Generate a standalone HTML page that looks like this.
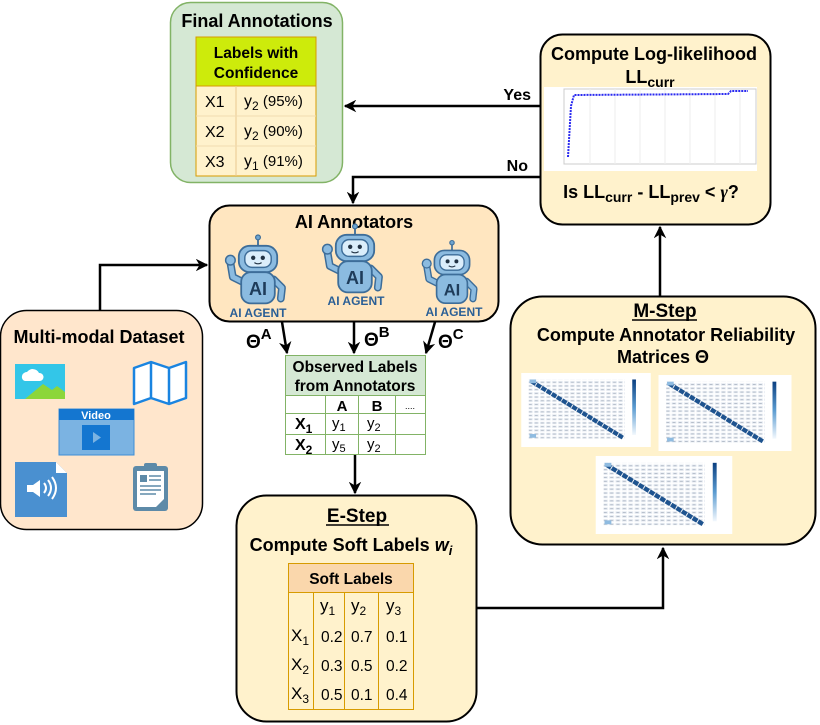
<!DOCTYPE html>
<html><head><meta charset="utf-8"><style>
html,body{margin:0;padding:0;background:#fff;}
svg{display:block;font-family:"Liberation Sans",Arial,sans-serif;}
.b{font-weight:bold;}
</style></head><body>
<svg width="820" height="725" viewBox="0 0 820 725" xmlns="http://www.w3.org/2000/svg">
<defs>
<marker id="ar" viewBox="0 0 10 10" refX="9" refY="5" markerWidth="5" markerHeight="5" orient="auto-start-reverse"><path d="M0,0 L10,5 L0,10 L3,5 z" fill="#000"/></marker>
<pattern id="grid" width="6.5" height="4" patternUnits="userSpaceOnUse"><rect width="6.5" height="4" fill="#fff"/><rect x="0.8" y="0.8" width="5" height="2.4" fill="#e2e8f0"/><rect x="1.8" y="1.6" width="3" height="0.8" fill="#aab3c0"/></pattern>
<linearGradient id="cb" x1="0" y1="0" x2="0" y2="1"><stop offset="0" stop-color="#0b3f80"/><stop offset="0.5" stop-color="#5a9bd0"/><stop offset="1" stop-color="#f2f8fd"/></linearGradient>
<symbol id="hm" viewBox="0 0 140 80">
<rect width="140" height="80" fill="#fff"/>
<rect x="8" y="7" width="104" height="64" fill="url(#grid)"/>
<line x1="11" y1="9" x2="110" y2="70" stroke="#1e538f" stroke-width="4.5" stroke-dasharray="5.5 1"/>
<rect x="9" y="66" width="7" height="4" fill="#8fbbe0"/><rect x="9" y="7" width="7" height="4" fill="#8fbbe0"/>
<rect x="120" y="7" width="4" height="60" fill="url(#cb)"/>
</symbol>
<g id="robot">
<line x1="0" y1="-32" x2="0" y2="-26" stroke="#3d6d99" stroke-width="1.5"/><circle cx="0" cy="-33" r="2" fill="#6fa5d0" stroke="#3d6d99"/>
<path d="M-13,4 L-21,0 L-23,-12" stroke="#3d6d99" stroke-width="6.5" fill="none" stroke-linecap="round" stroke-linejoin="round"/>
<path d="M-13,4 L-21,0 L-23,-12" stroke="#8bbbe0" stroke-width="4" fill="none" stroke-linecap="round" stroke-linejoin="round"/>
<circle cx="-23" cy="-14" r="4" fill="#8bbbe0" stroke="#3d6d99" stroke-width="1.2"/>
<path d="M13,2 L20,9 L19,18" stroke="#3d6d99" stroke-width="6.5" fill="none" stroke-linecap="round" stroke-linejoin="round"/>
<path d="M13,2 L20,9 L19,18" stroke="#8bbbe0" stroke-width="4" fill="none" stroke-linecap="round" stroke-linejoin="round"/>
<rect x="-16" y="-26" width="32" height="22" rx="9" fill="#8bbbe0" stroke="#3d6d99" stroke-width="1.5"/>
<rect x="-11" y="-22" width="22" height="14" rx="6" fill="#dbeefb" stroke="#3d6d99" stroke-width="1.2"/>
<circle cx="-4" cy="-16" r="1.8" fill="#234"/><circle cx="4" cy="-16" r="1.8" fill="#234"/>
<path d="M-3,-12 Q0,-10 3,-12" stroke="#234" fill="none"/>
<rect x="-14" y="-4" width="28" height="26" rx="8" fill="#8bbbe0" stroke="#3d6d99" stroke-width="1.5"/>
<text x="0" y="15" text-anchor="middle" font-size="15" class="b" fill="#1e3c5a">AI</text>
</g>
</defs>

<!-- Final Annotations -->
<rect x="170.5" y="2.5" width="172" height="180" rx="20" fill="#d5e8d4" stroke="#82b366" stroke-width="1.5"/>
<text x="257" y="27" text-anchor="middle" font-size="18" class="b">Final Annotations</text>
<rect x="196" y="37" width="120" height="49" fill="#cdeb0b" stroke="#d79b00" stroke-width="1"/>
<text x="256" y="58" text-anchor="middle" font-size="15.5" class="b">Labels with</text>
<text x="256" y="78" text-anchor="middle" font-size="15.5" class="b">Confidence</text>
<rect x="196" y="86" width="120" height="90" fill="#fff2cc" stroke="#d79b00" stroke-width="1"/>
<line x1="236" y1="86" x2="236" y2="176" stroke="#e8c890"/>
<line x1="196" y1="116" x2="316" y2="116" stroke="#f0dcb0"/><line x1="196" y1="146" x2="316" y2="146" stroke="#f0dcb0"/>
<g font-size="16"><text x="205" y="107">X1</text><text x="205" y="137">X2</text><text x="205" y="167">X3</text>
<text x="244" y="106">y<tspan font-size="12" dy="4">2</tspan><tspan dy="-4" font-size="15"> (95%)</tspan></text>
<text x="244" y="136">y<tspan font-size="12" dy="4">2</tspan><tspan dy="-4" font-size="15"> (90%)</tspan></text>
<text x="244" y="166">y<tspan font-size="12" dy="4">1</tspan><tspan dy="-4" font-size="15"> (91%)</tspan></text></g>

<!-- LL box -->
<rect x="540.5" y="34.5" width="230" height="190" rx="22" fill="#fff2cc" stroke="#000" stroke-width="2"/>
<text x="654" y="60" text-anchor="middle" font-size="18" class="b">Compute Log-likelihood</text>
<text x="650" y="83" text-anchor="middle" font-size="18" class="b">LL<tspan font-size="14" dy="4">curr</tspan></text>
<rect x="544" y="87" width="213" height="84" fill="#fff"/>
<rect x="564" y="89" width="192" height="75" fill="#fff" stroke="#ccc"/>
<g stroke="#eee"><line x1="590" y1="89" x2="590" y2="164"/><line x1="615" y1="89" x2="615" y2="164"/><line x1="640" y1="89" x2="640" y2="164"/><line x1="665" y1="89" x2="665" y2="164"/><line x1="690" y1="89" x2="690" y2="164"/><line x1="715" y1="89" x2="715" y2="164"/><line x1="740" y1="89" x2="740" y2="164"/></g>
<polyline points="568,157 571,106 574,95 728,94 731,91 748,91" fill="none" stroke="#2a2af0" stroke-width="2" stroke-dasharray="2 1"/>
<text x="651" y="198" text-anchor="middle" font-size="18" class="b">Is LL<tspan font-size="14" dy="4">curr</tspan><tspan dy="-4"> - LL</tspan><tspan font-size="14" dy="4">prev</tspan><tspan dy="-4"> &lt; </tspan><tspan font-family="Liberation Serif" font-style="italic">γ</tspan>?</text>

<!-- Yes / No -->
<line x1="540" y1="106" x2="345" y2="106" stroke="#000" stroke-width="2.5" marker-end="url(#ar)"/>
<text x="531" y="100" text-anchor="end" font-size="16" class="b">Yes</text>
<polyline points="540,177 353,177 353,203" fill="none" stroke="#000" stroke-width="2.5" marker-end="url(#ar)"/>
<text x="528" y="171" text-anchor="end" font-size="16" class="b">No</text>

<!-- AI Annotators -->
<rect x="209.5" y="205.5" width="289" height="116" rx="20" fill="#ffe6c0" stroke="#000" stroke-width="2"/>
<text x="354" y="228" text-anchor="middle" font-size="18" class="b">AI Annotators</text>
<g transform="translate(258,277) scale(1.2)"><use href="#robot"/></g>
<g transform="translate(355,266) scale(1.2)"><use href="#robot"/></g>
<g transform="translate(452,279) scale(1.1)"><use href="#robot"/></g>
<g font-size="12" class="b" fill="#2a5f96" text-anchor="middle">
<text x="258" y="317">AI AGENT</text><text x="356" y="305">AI AGENT</text><text x="454" y="316">AI AGENT</text></g>

<!-- arrows to observed -->
<line x1="282" y1="322" x2="287" y2="353" stroke="#000" stroke-width="2.5" marker-end="url(#ar)"/>
<line x1="354" y1="322" x2="354" y2="353" stroke="#000" stroke-width="2.5" marker-end="url(#ar)"/>
<line x1="435" y1="322" x2="426" y2="353" stroke="#000" stroke-width="2.5" marker-end="url(#ar)"/>
<g font-size="19" class="b"><text x="246" y="348">Θ<tspan font-size="15" dy="-9">A</tspan></text>
<text x="364" y="346">Θ<tspan font-size="15" dy="-9">B</tspan></text>
<text x="438" y="348">Θ<tspan font-size="15" dy="-9">C</tspan></text></g>

<!-- Observed table -->
<rect x="285.5" y="355.5" width="140" height="40" fill="#d5e8d4" stroke="#82b366"/>
<text x="355" y="372" text-anchor="middle" font-size="15.5" class="b">Observed Labels</text>
<text x="355" y="391" text-anchor="middle" font-size="15.5" class="b">from Annotators</text>
<g stroke="#82b366" fill="none"><rect x="285.5" y="395.5" width="140" height="59"/>
<line x1="285" y1="413.5" x2="425" y2="413.5"/><line x1="285" y1="434.5" x2="425" y2="434.5"/>
<line x1="325.5" y1="395" x2="325.5" y2="455"/><line x1="358.5" y1="395" x2="358.5" y2="455"/><line x1="395.5" y1="395" x2="395.5" y2="455"/></g>
<g font-size="15"><text x="342" y="411" text-anchor="middle" class="b">A</text><text x="377" y="411" text-anchor="middle" class="b">B</text><text x="410" y="409" text-anchor="middle" font-size="9">....</text>
<text x="295" y="429" class="b" font-size="16">X<tspan font-size="12" dy="4">1</tspan></text>
<text x="295" y="450" class="b" font-size="16">X<tspan font-size="12" dy="4">2</tspan></text>
<text x="332" y="428">y<tspan font-size="11" dy="3">1</tspan></text><text x="367" y="428">y<tspan font-size="11" dy="3">2</tspan></text>
<text x="332" y="449">y<tspan font-size="11" dy="3">5</tspan></text><text x="367" y="449">y<tspan font-size="11" dy="3">2</tspan></text></g>
<line x1="355" y1="455" x2="355" y2="493" stroke="#000" stroke-width="2.5" marker-end="url(#ar)"/>

<!-- E-step -->
<rect x="236.5" y="495.5" width="240" height="226" rx="30" fill="#fff2cc" stroke="#000" stroke-width="2"/>
<text x="357" y="522" text-anchor="middle" font-size="19" class="b">E-Step</text>
<line x1="326" y1="525" x2="389" y2="525" stroke="#000" stroke-width="1.5"/>
<text x="351" y="551" text-anchor="middle" font-size="18" class="b">Compute Soft Labels <tspan font-style="italic">w</tspan><tspan font-style="italic" font-size="13" dy="4">i</tspan></text>
<rect x="288.5" y="563.5" width="125" height="29" fill="#fad7ac" stroke="#d79b00"/>
<text x="351" y="584" text-anchor="middle" font-size="15.5" class="b">Soft Labels</text>
<rect x="288.5" y="592.5" width="125" height="117" fill="#fff2cc" stroke="#d79b00"/>
<g stroke="#d79b00"><line x1="313.5" y1="592" x2="313.5" y2="710"/><line x1="344.5" y1="592" x2="344.5" y2="710"/><line x1="378.5" y1="592" x2="378.5" y2="710"/></g>
<g font-size="17">
<text x="320" y="611">y<tspan font-size="12" dy="4">1</tspan></text><text x="351" y="611">y<tspan font-size="12" dy="4">2</tspan></text><text x="386" y="611">y<tspan font-size="12" dy="4">3</tspan></text>
<text x="291" y="641">X<tspan font-size="12" dy="4">1</tspan></text><text x="291" y="670">X<tspan font-size="12" dy="4">2</tspan></text><text x="291" y="699">X<tspan font-size="12" dy="4">3</tspan></text>
<g font-size="15.5"><text x="321" y="642">0.2</text><text x="351" y="642">0.7</text><text x="386" y="642">0.1</text>
<text x="321" y="671">0.3</text><text x="351" y="671">0.5</text><text x="386" y="671">0.2</text>
<text x="321" y="700">0.5</text><text x="351" y="700">0.1</text><text x="386" y="700">0.4</text></g></g>

<!-- E to M -->
<polyline points="477,608 663,608 663,548" fill="none" stroke="#000" stroke-width="2.5" marker-end="url(#ar)"/>

<!-- M-step -->
<rect x="510.5" y="296.5" width="305" height="248" rx="32" fill="#fff2cc" stroke="#000" stroke-width="2"/>
<text x="665" y="317" text-anchor="middle" font-size="19" class="b">M-Step</text>
<line x1="632" y1="320" x2="697" y2="320" stroke="#000" stroke-width="1.5"/>
<text x="666" y="341" text-anchor="middle" font-size="18" class="b">Compute Annotator Reliability</text>
<text x="663" y="363" text-anchor="middle" font-size="18" class="b">Matrices Θ</text>
<use href="#hm" x="520" y="373" width="132" height="74"/>
<use href="#hm" x="658" y="375" width="134" height="76"/>
<use href="#hm" x="595" y="456" width="138" height="78"/>
<line x1="660" y1="296" x2="660" y2="227" stroke="#000" stroke-width="2.5" marker-end="url(#ar)"/>

<!-- Multi-modal -->
<rect x="0.5" y="310.5" width="202" height="219" rx="26" fill="#ffe6cc" stroke="#000" stroke-width="1.5"/>
<text x="99" y="343" text-anchor="middle" font-size="18" class="b">Multi-modal Dataset</text>
<polyline points="100,310 100,265 207,265" fill="none" stroke="#000" stroke-width="2.5" marker-end="url(#ar)"/>
<!-- image icon -->
<rect x="15" y="364" width="50" height="35" fill="#33c6e8"/>
<path d="M25,399 L43,384 L52,390 L57,386 L65,392 L65,399 z" fill="#8cd63a"/>
<path d="M22,378 a5,5 0 0 1 5,-6 a7,7 0 0 1 12,1 a4,4 0 0 1 1,8 h-15 a4,4 0 0 1 -3,-3z" fill="#fff"/>
<!-- map -->
<path d="M134,368 L151,362 L169,368 L186,362 L186,398 L169,404 L151,398 L134,404 z M151,362 L151,398 M169,368 L169,404" fill="#fff" stroke="#1a84e0" stroke-width="2.5" stroke-linejoin="round"/>
<!-- video -->
<rect x="59" y="409" width="75" height="46" fill="#7bb3e2" stroke="#3d8ed6"/>
<rect x="59" y="409" width="75" height="11" fill="#1476d0"/>
<text x="96" y="419" text-anchor="middle" font-size="11" class="b" fill="#fff">Video</text>
<rect x="82" y="425" width="28" height="25" fill="#1476d0"/>
<path d="M93,432 L101,437.5 L93,443 z" fill="#7bb3e2"/>
<!-- audio -->
<path d="M15,462 L56,462 L67,473 L67,517 L15,517 z" fill="#4a90d0"/>
<path d="M56,462 L67,473 L56,473 z" fill="#fff"/>
<path d="M27,485 h6 l7,-5 v17 l-7,-5 h-6 z" fill="#fff"/>
<path d="M44,483 q4,5 0,10 M48,480 q6,8 0,16 M52,477 q8,11 0,22" stroke="#fff" stroke-width="2" fill="none"/>
<!-- clipboard -->
<rect x="133" y="466" width="35" height="45" rx="3" fill="#5d8aa8"/>
<rect x="137" y="471" width="27" height="36" fill="#fff"/>
<rect x="144" y="463" width="13" height="6" rx="2" fill="#5d8aa8"/>
<rect x="140" y="475" width="7" height="7" fill="#5d8aa8"/>
<g stroke="#5d8aa8" stroke-width="1.5"><line x1="149" y1="476" x2="161" y2="476"/><line x1="149" y1="480" x2="161" y2="480"/><line x1="140" y1="486" x2="161" y2="486"/><line x1="140" y1="490" x2="161" y2="490"/><line x1="140" y1="494" x2="156" y2="494"/></g>
<path d="M156,507 L164,499 L164,507 z" fill="#5d8aa8"/>
</svg>
</body></html>
